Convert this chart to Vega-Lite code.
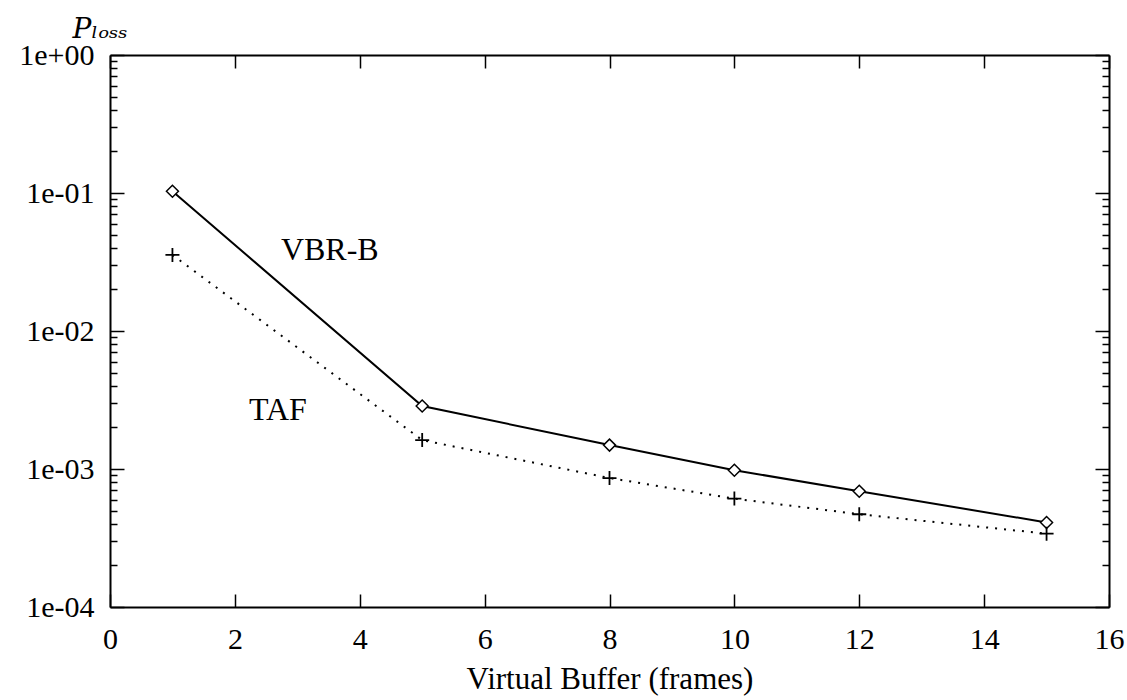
{
  "$schema": "https://vega.github.io/schema/vega-lite/v6.json",
  "autosize": {"type": "none"},
  "padding": {"left": 110, "top": 55, "right": 18, "bottom": 93},
  "width": 999,
  "height": 552,
  "background": "white",
  "config": {
    "view": {"stroke": null},
    "axis": {
      "labelFont": "Liberation Serif",
      "titleFont": "Liberation Serif",
      "labelFontSize": 30,
      "titleFontSize": 31,
      "titleFontWeight": "normal",
      "labelColor": "black",
      "titleColor": "black",
      "domainColor": "black",
      "domainWidth": 2,
      "tickColor": "black",
      "tickWidth": 1.5,
      "grid": false
    }
  },
  "datasets": {
    "series": [
      {"x": 1, "y": 0.103, "series": "VBR-B"},
      {"x": 5, "y": 0.00286, "series": "VBR-B"},
      {"x": 8, "y": 0.00149, "series": "VBR-B"},
      {"x": 10, "y": 0.00098, "series": "VBR-B"},
      {"x": 12, "y": 0.00069, "series": "VBR-B"},
      {"x": 15, "y": 0.00041, "series": "VBR-B"},
      {"x": 1, "y": 0.0356, "series": "TAF"},
      {"x": 5, "y": 0.00162, "series": "TAF"},
      {"x": 8, "y": 0.00086, "series": "TAF"},
      {"x": 10, "y": 0.00061, "series": "TAF"},
      {"x": 12, "y": 0.00047, "series": "TAF"},
      {"x": 15, "y": 0.00034, "series": "TAF"}
    ],
    "labels": [
      {"x": 3.52, "y": 0.0386, "text": "VBR-B"},
      {"x": 2.69, "y": 0.00268, "text": "TAF"}
    ]
  },
  "layer": [
    {
      "data": {"name": "series"},
      "transform": [{"filter": "datum.series === 'VBR-B'"}],
      "mark": {"type": "line", "color": "black", "strokeWidth": 2},
      "encoding": {
        "x": {
          "field": "x", "type": "quantitative",
          "scale": {"domain": [0, 16], "nice": false, "zero": false},
          "axis": {
            "orient": "bottom",
            "values": [0, 2, 4, 6, 8, 10, 12, 14, 16],
            "tickSize": -13,
            "labelPadding": 30,
            "labelFlush": false,
            "title": "Virtual Buffer (frames)",
            "titlePadding": 10
          }
        },
        "y": {
          "field": "y", "type": "quantitative",
          "scale": {"type": "log", "domain": [0.0001, 1], "nice": false},
          "axis": {
            "orient": "left",
            "values": [0.0001, 0.0002, 0.0003, 0.0004, 0.0005, 0.0006, 0.0007, 0.0008, 0.0009,
                       0.001, 0.002, 0.003, 0.004, 0.005, 0.006, 0.007, 0.008, 0.009,
                       0.01, 0.02, 0.03, 0.04, 0.05, 0.06, 0.07, 0.08, 0.09,
                       0.1, 0.2, 0.3, 0.4, 0.5, 0.6, 0.7, 0.8, 0.9, 1],
            "tickSize": {"condition": {"test": "abs(log(datum.value)/LN10 - round(log(datum.value)/LN10)) < 0.01", "value": -14}, "value": -7},
            "labelExpr": "abs(log(datum.value)/LN10 - round(log(datum.value)/LN10)) < 0.01 ? (round(log(datum.value)/LN10) == 0 ? '1e+00' : '1e-0' + (-round(log(datum.value)/LN10))) : ''",
            "labelPadding": 30,
            "labelFlush": false,
            "labelBaseline": "middle",
            "title": "Pₗₒₛₛ",
            "titleFont": "DejaVu Serif",
            "titleFontStyle": "italic",
            "titleFontSize": 28,
            "titleAngle": 0,
            "titleAlign": "left",
            "titleBaseline": "middle",
            "titleX": -38,
            "titleY": -26
          }
        }
      }
    },
    {
      "data": {"name": "series"},
      "transform": [{"filter": "datum.series === 'TAF'"}],
      "mark": {"type": "line", "color": "black", "strokeWidth": 2, "strokeDash": [2, 7]},
      "encoding": {
        "x": {"field": "x", "type": "quantitative", "axis": null},
        "y": {"field": "y", "type": "quantitative", "axis": null}
      }
    },
    {
      "data": {"name": "series"},
      "transform": [{"filter": "datum.series === 'VBR-B'"}],
      "mark": {"type": "point", "shape": "diamond", "size": 144, "filled": true, "fill": "white", "stroke": "black", "strokeWidth": 1.5, "opacity": 1},
      "encoding": {
        "x": {
          "field": "x", "type": "quantitative",
          "axis": {
            "orient": "top",
            "values": [0, 2, 4, 6, 8, 10, 12, 14, 16],
            "tickSize": -13,
            "labels": false,
            "title": null
          }
        },
        "y": {
          "field": "y", "type": "quantitative",
          "axis": {
            "orient": "right",
            "values": [0.0001, 0.0002, 0.0003, 0.0004, 0.0005, 0.0006, 0.0007, 0.0008, 0.0009,
                       0.001, 0.002, 0.003, 0.004, 0.005, 0.006, 0.007, 0.008, 0.009,
                       0.01, 0.02, 0.03, 0.04, 0.05, 0.06, 0.07, 0.08, 0.09,
                       0.1, 0.2, 0.3, 0.4, 0.5, 0.6, 0.7, 0.8, 0.9, 1],
            "tickSize": {"condition": {"test": "abs(log(datum.value)/LN10 - round(log(datum.value)/LN10)) < 0.01", "value": -14}, "value": -7},
            "labels": false,
            "title": null
          }
        }
      }
    },
    {
      "data": {"name": "series"},
      "transform": [{"filter": "datum.series === 'TAF'"}],
      "mark": {"type": "point", "shape": "M-1,0H1M0,-1V1", "size": 196, "filled": false, "stroke": "black", "strokeWidth": 1.8, "opacity": 1},
      "encoding": {
        "x": {"field": "x", "type": "quantitative", "axis": null},
        "y": {"field": "y", "type": "quantitative", "axis": null}
      }
    },
    {
      "data": {"name": "labels"},
      "mark": {"type": "text", "font": "Liberation Serif", "fontSize": 32, "color": "black", "align": "center", "baseline": "middle"},
      "encoding": {
        "x": {"field": "x", "type": "quantitative", "axis": null},
        "y": {"field": "y", "type": "quantitative", "axis": null},
        "text": {"field": "text", "type": "nominal"}
      }
    }
  ],
  "resolve": {"axis": {"x": "independent", "y": "independent"}}
}
